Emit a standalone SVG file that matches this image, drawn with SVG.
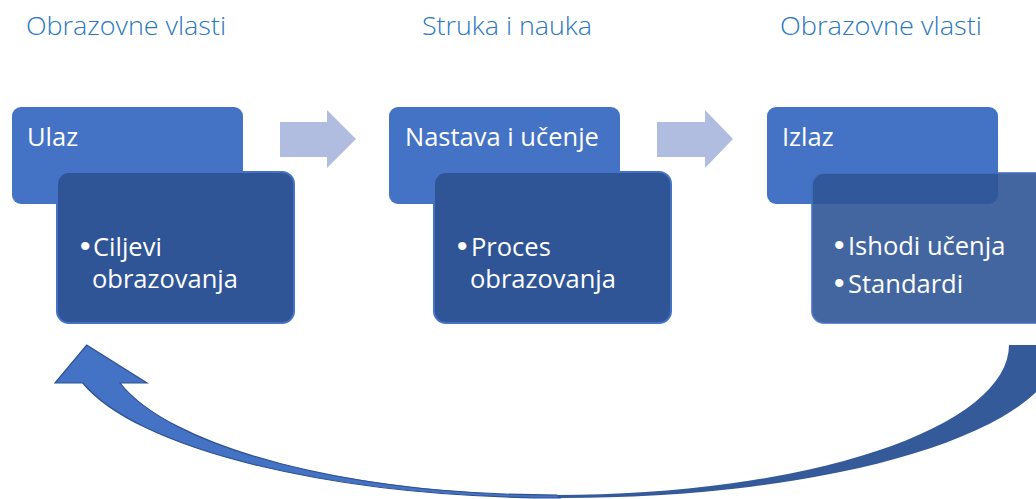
<svg xmlns="http://www.w3.org/2000/svg" width="1036" height="499" viewBox="0 0 1036 499">
<style>
.title{font-family:"Open Sans","Liberation Sans",sans-serif;font-weight:300;font-size:26px;fill:#2a78c0;text-anchor:middle}
.head{fill:#4472c4}
.body{fill:#2f5597;stroke:#4472c4;stroke-width:2}
.t{font-family:"Open Sans","Liberation Sans",sans-serif;font-size:25.5px;fill:#ffffff}
.b{font-family:"Liberation Sans",sans-serif;font-size:30px;fill:#ffffff}
.flow{fill:#b0bde0}
</style>
<rect width="1036" height="499" fill="#ffffff"/>
<g id="titles">
<text class="title" x="126" y="35" textLength="200" lengthAdjust="spacingAndGlyphs">Obrazovne vlasti</text>
<text class="title" x="507" y="35" textLength="170" lengthAdjust="spacingAndGlyphs">Struka i nauka</text>
<text class="title" x="881" y="35" textLength="202" lengthAdjust="spacingAndGlyphs">Obrazovne vlasti</text>
</g>
<g id="node-ulaz">
<rect class="head" x="12" y="107" width="231" height="97" rx="9"/>
<text class="t" x="27" y="146">Ulaz</text>
<rect class="body" x="57" y="172" width="237" height="151" rx="12"/>
<text class="b" x="80" y="256">•</text>
<text class="t" x="93" y="256">Ciljevi</text>
<text class="t" x="92" y="288">obrazovanja</text>
</g>
<g id="node-nastava">
<rect class="head" x="389" y="107" width="231" height="97" rx="9"/>
<text class="t" x="405" y="146">Nastava i učenje</text>
<rect class="body" x="434" y="172" width="237" height="151" rx="12"/>
<text class="b" x="457" y="256">•</text>
<text class="t" x="471" y="256">Proces</text>
<text class="t" x="470" y="288">obrazovanja</text>
</g>
<g id="node-izlaz">
<rect class="head" x="767" y="107" width="231" height="97" rx="9"/>
<text class="t" x="782" y="146">Izlaz</text>
<rect class="body" x="812" y="173" width="240" height="150" rx="12" fill-opacity="0.9" stroke-opacity="0.8"/>
<text class="b" x="834" y="255">•</text>
<text class="t" x="848" y="255">Ishodi učenja</text>
<text class="b" x="834" y="293">•</text>
<text class="t" x="848" y="293">Standardi</text>
</g>
<g id="connectors">
<path class="flow" d="M280 122 H327 V110 L356 139 L327 168 V157 H280 Z"/>
<path class="flow" d="M657 122 H705 V110 L733 139 L705 168 V157 H657 Z"/>
<path d="M560 498 A496.5 153 0 0 0 1060.3 345 L1009 345 A452 150 0 0 1 557 495 Z" fill="#345a9a"/>
<path d="M82.7 383 A496.5 153 0 0 0 560 498 L557 495 A452 150 0 0 1 120 383 L147 383 L86.7 345 L55 383 Z" fill="#4472c4" stroke="#2f528f" stroke-width="1.2" stroke-linejoin="miter"/>
</g>
</svg>
